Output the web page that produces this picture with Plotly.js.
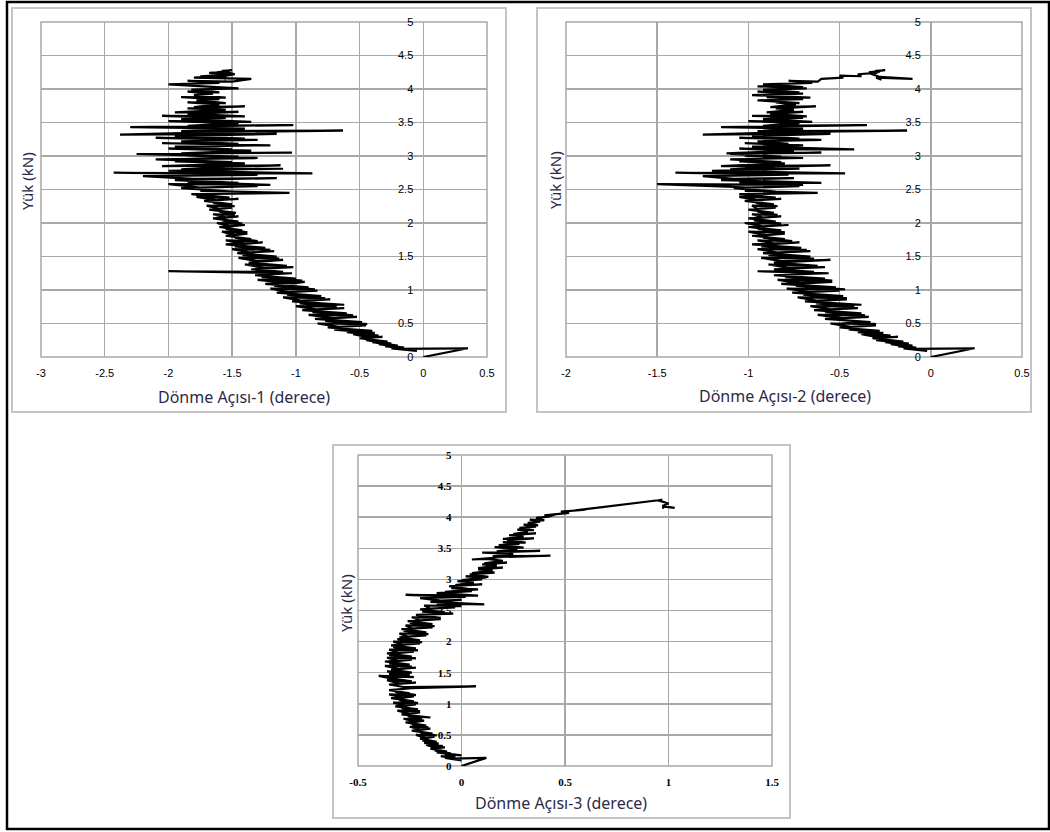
<!DOCTYPE html>
<html>
<head>
<meta charset="utf-8">
<script src="https://cdn.plot.ly/plotly-3.0.1.min.js"></script>
<style>
html,body{margin:0;padding:0;background:#fff;}
#chart{width:1050px;height:832px;}
</style>
</head>
<body>
<div id="chart"></div>
<script>
// Yük (kN) - shared load history
const load = [
0, 0.13, 0.12, 0.09, 0.13, 0.11, 0.16, 0.14, 0.19, 0.17,
0.22, 0.2, 0.25, 0.23, 0.28, 0.3, 0.29, 0.34, 0.32, 0.37,
0.36, 0.41, 0.39, 0.44, 0.47, 0.45, 0.5, 0.49, 0.54, 0.52,
0.57, 0.6, 0.58, 0.63, 0.62, 0.67, 0.65, 0.7, 0.73, 0.71,
0.76, 0.75, 0.8, 0.78, 0.83, 0.86, 0.84, 0.89, 0.88, 0.93,
0.91, 0.96, 0.99, 0.97, 1.02, 1.01, 1.06, 1.04, 1.09, 1.12,
1.1, 1.15, 1.14, 1.19, 1.17, 1.22, 1.25, 1.28, 1.27, 1.31,
1.34, 1.33, 1.38, 1.36, 1.41, 1.45, 1.43, 1.48, 1.47, 1.52,
1.5, 1.55, 1.58, 1.56, 1.61, 1.6, 1.65, 1.63, 1.68, 1.71,
1.69, 1.74, 1.73, 1.78, 1.76, 1.81, 1.84, 1.82, 1.87, 1.86,
1.91, 1.89, 1.94, 1.97, 1.95, 2.0, 1.99, 2.04, 2.02, 2.07,
2.1, 2.08, 2.13, 2.12, 2.17, 2.15, 2.2, 2.23, 2.21, 2.26,
2.25, 2.3, 2.28, 2.33, 2.36, 2.34, 2.39, 2.38, 2.43, 2.45,
2.48, 2.47, 2.52, 2.55, 2.53, 2.58, 2.57, 2.61, 2.6, 2.64,
2.67, 2.66, 2.7, 2.72, 2.75, 2.74, 2.78, 2.81, 2.8, 2.84,
2.86, 2.85, 2.89, 2.92, 2.91, 2.95, 2.97, 3.0, 2.99, 3.03,
3.05, 3.04, 3.08, 3.11, 3.1, 3.14, 3.16, 3.19, 3.18, 3.22,
3.24, 3.27, 3.26, 3.3, 3.33, 3.32, 3.36, 3.38, 3.37, 3.41,
3.43, 3.46, 3.45, 3.49, 3.52, 3.51, 3.55, 3.57, 3.6, 3.59,
3.63, 3.66, 3.65, 3.69, 3.71, 3.74, 3.73, 3.77, 3.8, 3.79,
3.83, 3.85, 3.88, 3.87, 3.91, 3.93, 3.96, 3.95, 3.99, 4.01,
4.04, 4.03, 4.07, 4.09, 4.12, 4.11, 4.15, 4.17, 4.2, 4.19,
4.22, 4.24, 4.26, 4.25, 4.28, 4.27, 4.22, 4.18, 4.15, 4.17, 4.14
];

// Dönme Açısı-1 (derece)
const rot1 = [
0, 0.35, -0.2, -0.05, -0.25, -0.1, -0.3, -0.15, -0.35, -0.2,
-0.4, -0.25, -0.45, -0.28, -0.5, -0.32, -0.42, -0.55, -0.35, -0.6,
-0.38, -0.7, -0.4, -0.75, -0.45, -0.66, -0.83, -0.44, -0.77, -0.48,
-0.85, -0.52, -0.7, -0.9, -0.55, -0.87, -0.6, -0.95, -0.62, -0.84,
-1.0, -0.68, -0.97, -0.62, -1.03, -0.73, -0.95, -1.1, -0.77, -1.07,
-0.8, -1.15, -0.83, -1.05, -1.2, -0.85, -1.17, -0.9, -1.24, -0.93,
-1.02, -1.3, -0.95, -1.27, -1.0, -1.32, -1.03, -2.0, -1.1, -1.35,
-1.02, -1.25, -1.4, -1.07, -1.37, -1.1, -1.3, -1.45, -1.13, -1.42,
-1.15, -1.46, -1.17, -1.36, -1.5, -1.2, -1.48, -1.24, -1.55, -1.26,
-1.4, -1.55, -1.3, -1.48, -1.35, -1.55, -1.38, -1.48, -1.58, -1.38,
-1.55, -1.42, -1.6, -1.4, -1.52, -1.62, -1.42, -1.58, -1.45, -1.65,
-1.45, -1.55, -1.65, -1.48, -1.6, -1.47, -1.68, -1.5, -1.6, -1.7,
-1.48, -1.65, -1.5, -1.72, -1.45, -1.62, -1.78, -1.52, -1.82, -1.05,
-1.75, -1.5, -1.9, -1.3, -1.75, -2.0, -1.2, -1.85, -1.45, -1.95,
-1.15, -1.8, -2.2, -1.3, -2.43, -0.87, -2.0, -1.1, -1.9, -1.55,
-1.12, -2.05, -1.4, -1.95, -1.5, -2.1, -1.3, -1.85, -1.45, -2.25,
-1.03, -1.9, -1.35, -2.0, -1.5, -1.95, -1.2, -2.05, -1.45, -1.9,
-1.3, -2.1, -1.4, -1.95, -1.15, -2.38, -1.5, -0.63, -1.9, -1.4,
-2.3, -1.02, -1.85, -1.45, -2.0, -1.35, -1.9, -1.55, -2.05, -1.4,
-1.85, -1.45, -1.95, -1.55, -1.85, -1.4, -1.8, -1.6, -1.85, -1.55,
-1.78, -1.6, -1.9, -1.55, -1.8, -1.65, -1.85, -1.6, -1.82, -1.45,
-1.78, -1.6, -2.0, -1.6, -1.85, -1.5, -1.35, -1.8, -1.55, -1.75,
-1.5, -1.68, -1.52, -1.62, -1.5, -1.58, -1.48, -1.6, -1.52, -1.58, -1.55
];

// Dönme Açısı-2 (derece)
const rot2 = [
0, 0.24, -0.1, -0.02, -0.15, -0.05, -0.18, -0.08, -0.22, -0.1,
-0.25, -0.12, -0.3, -0.15, -0.32, -0.18, -0.28, -0.38, -0.22, -0.4,
-0.26, -0.45, -0.28, -0.5, -0.3, -0.44, -0.55, -0.3, -0.5, -0.33,
-0.58, -0.34, -0.48, -0.62, -0.36, -0.58, -0.38, -0.64, -0.4, -0.55,
-0.66, -0.42, -0.63, -0.38, -0.69, -0.46, -0.62, -0.73, -0.46, -0.7,
-0.48, -0.76, -0.5, -0.66, -0.79, -0.47, -0.74, -0.52, -0.82, -0.54,
-0.7, -0.84, -0.54, -0.8, -0.58, -0.86, -0.56, -0.95, -0.64, -0.86,
-0.58, -0.78, -0.89, -0.62, -0.86, -0.55, -0.82, -0.93, -0.64, -0.89,
-0.66, -0.92, -0.66, -0.84, -0.95, -0.68, -0.93, -0.71, -0.98, -0.72,
-0.85, -0.95, -0.76, -0.92, -0.8, -0.98, -0.8, -0.9, -1.0, -0.8,
-0.95, -0.82, -1.0, -0.78, -0.92, -1.02, -0.82, -0.97, -0.85, -1.0,
-0.82, -0.92, -0.98, -0.84, -0.95, -0.86, -1.0, -0.85, -0.95, -0.98,
-0.84, -0.96, -0.86, -1.02, -0.82, -0.95, -1.05, -0.85, -1.05, -0.62,
-1.02, -0.85, -1.08, -0.72, -1.0, -1.5, -0.7, -1.05, -0.6, -1.15,
-0.75, -1.08, -1.25, -0.78, -1.4, -0.47, -1.2, -0.72, -1.1, -0.85,
-0.55, -1.15, -0.8, -1.05, -0.82, -1.1, -0.7, -1.02, -0.82, -1.1,
-0.6, -1.12, -0.75, -1.05, -0.42, -0.98, -0.7, -1.02, -0.78, -0.95,
-0.6, -1.05, -0.72, -0.98, -0.55, -1.25, -0.75, -0.13, -0.95, -0.7,
-1.15, -0.35, -0.92, -0.72, -1.0, -0.65, -0.92, -0.7, -0.98, -0.68,
-0.88, -0.7, -0.9, -0.75, -0.85, -0.63, -0.88, -0.74, -0.85, -0.72,
-0.95, -0.7, -0.9, -0.66, -0.98, -0.7, -0.95, -0.72, -0.92, -0.68,
-0.95, -0.7, -0.92, -0.65, -0.78, -0.62, -0.6, -0.48, -0.5, -0.38,
-0.4, -0.3, -0.28, -0.34, -0.25, -0.3, -0.32, -0.28, -0.1, -0.3, -0.27
];

// Dönme Açısı-3 (derece)
const rot3 = [
0, 0.12, -0.05, 0.0, -0.08, -0.02, -0.1, -0.03, -0.08, 0.0,
-0.12, -0.05, -0.13, -0.07, -0.15, -0.08, -0.12, -0.17, -0.09, -0.18,
-0.11, -0.19, -0.12, -0.2, -0.13, -0.17, -0.22, -0.12, -0.2, -0.14,
-0.24, -0.15, -0.2, -0.25, -0.16, -0.24, -0.17, -0.27, -0.18, -0.22,
-0.28, -0.19, -0.26, -0.15, -0.29, -0.2, -0.25, -0.31, -0.2, -0.29,
-0.21, -0.32, -0.22, -0.27, -0.33, -0.21, -0.3, -0.23, -0.34, -0.23,
-0.28, -0.35, -0.22, -0.32, -0.25, -0.35, -0.24, 0.07, -0.28, -0.35,
-0.22, -0.3, -0.36, -0.24, -0.34, -0.4, -0.23, -0.35, -0.25, -0.36,
-0.24, -0.34, -0.22, -0.3, -0.37, -0.24, -0.35, -0.25, -0.37, -0.24,
-0.3, -0.36, -0.22, -0.35, -0.24, -0.36, -0.23, -0.3, -0.35, -0.21,
-0.33, -0.22, -0.34, -0.2, -0.28, -0.33, -0.19, -0.31, -0.2, -0.3,
-0.17, -0.26, -0.3, -0.16, -0.28, -0.17, -0.29, -0.14, -0.24, -0.27,
-0.13, -0.25, -0.14, -0.26, -0.1, -0.2, -0.24, -0.1, -0.22, -0.04,
-0.19, -0.08, -0.2, -0.03, -0.15, -0.18, 0.0, -0.12, 0.11, -0.15,
0.0, -0.1, -0.2, 0.02, -0.27, 0.08, -0.12, 0.05, -0.08, 0.08,
-0.05, 0.03, -0.06, 0.1, -0.03, 0.06, -0.02, 0.1, 0.0, 0.12,
0.02, 0.13, 0.04, 0.16, 0.05, 0.15, 0.08, 0.2, 0.08, 0.17,
0.1, 0.22, 0.11, 0.2, 0.12, 0.05, 0.2, 0.43, 0.15, 0.25,
0.1, 0.38, 0.17, 0.27, 0.16, 0.3, 0.18, 0.28, 0.2, 0.31,
0.22, 0.35, 0.2, 0.3, 0.23, 0.36, 0.25, 0.32, 0.27, 0.35,
0.28, 0.36, 0.3, 0.37, 0.32, 0.38, 0.33, 0.4, 0.36, 0.42,
0.45, 0.4, 0.52, 0.48, 0.6, 0.55, 0.65, 0.7, 0.78, 0.75,
0.84, 0.88, 0.93, 0.9, 0.97, 0.95, 1.0, 0.97, 1.03, 0.98, 0.97
];

// tick values and labels
const yTickVals = [0, 0.5, 1, 1.5, 2, 2.5, 3, 3.5, 4, 4.5, 5];
const yTickText = ["0", "0.5", "1", "1.5", "2", "2.5", "3", "3.5", "4", "4.5", "5"];
const x1TickVals = [-3, -2.5, -2, -1.5, -1, -0.5, 0, 0.5];
const x1TickText = ["-3", "-2.5", "-2", "-1.5", "-1", "-0.5", "0", "0.5"];
const x2TickVals = [-2, -1.5, -1, -0.5, 0, 0.5];
const x2TickText = ["-2", "-1.5", "-1", "-0.5", "0", "0.5"];
const x3TickVals = [-0.5, 0, 0.5, 1, 1.5];
const x3TickText = ["-0.5", "0", "0.5", "1", "1.5"];

const xTitles = ["Dönme Açısı-1 (derece)", "Dönme Açısı-2 (derece)", "Dönme Açısı-3 (derece)"];
const yTitle = "Yük (kN)";

const W = 1050, H = 832;
const px = v => v / W;
const py = v => 1 - v / H;

const GRID = '#a8a8a8';
const TITLE_COLOR = '#2a2a48';
const sansTick = {family: 'Liberation Sans, Arial, sans-serif', size: 11, color: '#000'};
const serifTick = {family: 'Liberation Serif, Times New Roman, serif', size: 11, color: '#000', weight: 'bold'};

function xAx(dom, range, vals, text, font, yname) {
  return {domain: dom, range: range, tickmode: 'array', tickvals: vals, ticktext: text,
    showgrid: true, gridcolor: GRID, gridwidth: 1.5, zeroline: false, showline: false,
    ticks: '', tickfont: font, anchor: yname, ticklabelstandoff: 8, fixedrange: true};
}
function yAx(dom, pos, font) {
  return {domain: dom, range: [0, 5], tickmode: 'array', tickvals: yTickVals, ticktext: yTickText,
    showgrid: true, gridcolor: GRID, gridwidth: 1.5, zeroline: false, showline: false,
    ticks: '', tickfont: font, anchor: 'free', position: pos, ticklabelstandoff: 10, fixedrange: true};
}

// plot-area pixel boxes
const p1 = {l: 41, r: 487, t: 22, b: 357};
const p2 = {l: 566, r: 1022, t: 22, b: 357};
const p3 = {l: 358, r: 772, t: 455, b: 766};

const x1dom = [px(p1.l), px(p1.r)], y1dom = [py(p1.b), py(p1.t)];
const x2dom = [px(p2.l), px(p2.r)], y2dom = [py(p2.b), py(p2.t)];
const x3dom = [px(p3.l), px(p3.r)], y3dom = [py(p3.b), py(p3.t)];

const pos1 = px(p1.l + (p1.r - p1.l) * (3 / 3.5));
const pos2 = px(p2.l + (p2.r - p2.l) * (2 / 2.5));
const pos3 = px(p3.l + (p3.r - p3.l) * (0.5 / 2));

const lineStyle = {color: '#000', width: 2.2};
const traces = [
  {x: rot1, y: load, type: 'scatter', mode: 'lines', line: lineStyle, xaxis: 'x', yaxis: 'y', hoverinfo: 'skip'},
  {x: rot2, y: load, type: 'scatter', mode: 'lines', line: lineStyle, xaxis: 'x2', yaxis: 'y2', hoverinfo: 'skip'},
  {x: rot3, y: load, type: 'scatter', mode: 'lines', line: lineStyle, xaxis: 'x3', yaxis: 'y3', hoverinfo: 'skip'}
];

function frame(xr, yr) {
  return {type: 'rect', xref: xr + ' domain', yref: yr + ' domain', x0: 0, x1: 1, y0: 0, y1: 1,
    line: {color: GRID, width: 1.5}, layer: 'below'};
}
function box(l, t, r, b, color, w) {
  return {type: 'rect', xref: 'paper', yref: 'paper', x0: px(l), x1: px(r), y0: py(b), y1: py(t),
    line: {color: color, width: w}, fillcolor: 'rgba(0,0,0,0)', layer: 'below'};
}

const xTitleFont = {family: 'Noto Sans, Open Sans, sans-serif', size: 16, color: TITLE_COLOR};
const yTitleFont = {family: 'Noto Sans, Open Sans, sans-serif', size: 15, color: TITLE_COLOR};
function xTitle(text, cx, cy) {
  return {text: text, xref: 'paper', yref: 'paper', x: px(cx), y: py(cy), xanchor: 'center', yanchor: 'middle',
    showarrow: false, font: xTitleFont};
}
function yTitleAnn(cx, cy) {
  return {text: yTitle, xref: 'paper', yref: 'paper', x: px(cx), y: py(cy), xanchor: 'center', yanchor: 'middle',
    showarrow: false, textangle: -90, font: yTitleFont};
}

const layout = {
  width: W, height: H, margin: {l: 0, r: 0, t: 0, b: 0},
  paper_bgcolor: '#fff', plot_bgcolor: '#fff', showlegend: false,
  xaxis: xAx(x1dom, [-3, 0.5], x1TickVals, x1TickText, sansTick, 'y'),
  yaxis: yAx(y1dom, pos1, sansTick),
  xaxis2: xAx(x2dom, [-2, 0.5], x2TickVals, x2TickText, sansTick, 'y2'),
  yaxis2: yAx(y2dom, pos2, sansTick),
  xaxis3: xAx(x3dom, [-0.5, 1.5], x3TickVals, x3TickText, serifTick, 'y3'),
  yaxis3: yAx(y3dom, pos3, serifTick),
  shapes: [
    box(7, 2, 1049, 829, '#000', 2.5),
    box(12, 8, 506, 412, '#c4c4c4', 2),
    box(537, 8, 1031, 412, '#c4c4c4', 2),
    box(333, 445, 790, 818, '#c4c4c4', 2),
    frame('x', 'y'), frame('x2', 'y2'), frame('x3', 'y3')
  ],
  annotations: [
    xTitle(xTitles[0], 244, 397),
    xTitle(xTitles[1], 785, 396),
    xTitle(xTitles[2], 561, 803),
    yTitleAnn(27, 181),
    yTitleAnn(555, 180),
    yTitleAnn(346, 603)
  ]
};

Plotly.newPlot('chart', traces, layout, {staticPlot: true, displayModeBar: false});
</script>
</body>
</html>
